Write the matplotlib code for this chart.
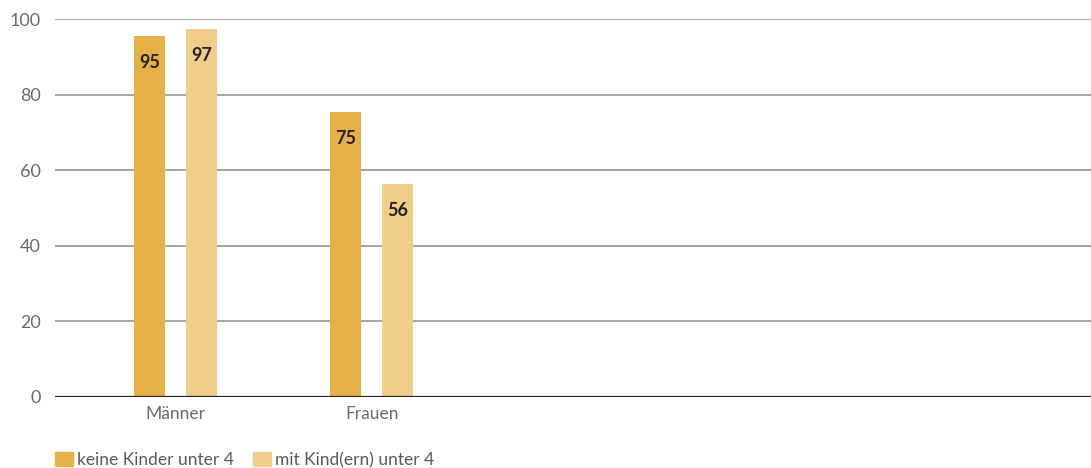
import matplotlib
matplotlib.use("Agg")
from matplotlib import pyplot as plt
from matplotlib.patches import Patch
import numpy as np

plt.rcParams['font.family'] = ['Lato', 'DejaVu Sans']

categories = ["Männer", "Frauen"]
series_names = ["keine Kinder unter 4", "mit Kind(ern) unter 4"]
keine_kinder = [95.6, 75.5]
mit_kindern = [97.5, 56.4]
yticks = [0, 20, 40, 60, 80, 100]

col_dark = "#E5B146"
col_light = "#F0CD8A"

fig = plt.figure(figsize=(10.91, 4.68), dpi=100)
ax = fig.add_axes([0.0504, 0.1524, 0.9496, 0.8064])

x = np.arange(len(categories))
w = 0.158
off = 0.1325
b1 = ax.bar(x - off, keine_kinder, w, color=col_dark, zorder=3)
b2 = ax.bar(x + off, mit_kindern, w, color=col_light, zorder=3)

for bars, vals in [(b1, keine_kinder), (b2, mit_kindern)]:
    for r, v in zip(bars, vals):
        ax.annotate(f"{int(v)}", (r.get_x() + r.get_width() / 2, v),
                    xytext=(0, -19.5), textcoords="offset points",
                    ha="center", va="center", fontsize=13,
                    fontweight="bold", color="#222222", zorder=4)

ax.set_xlim(-0.613, 4.66)
ax.set_ylim(0, 100)
for t in yticks[1:]:
    ax.axhline(t, color="#8a8a8a", lw=1.1, zorder=1)
ax.axhline(0, color="#222222", lw=1.6, zorder=4)

for s in ax.spines.values():
    s.set_visible(False)
ax.set_yticks(yticks)
ax.set_yticklabels([str(t) for t in yticks], fontsize=13, color="#6a6a6a")
ax.set_xticks(x)
ax.set_xticklabels(categories, fontsize=12.5, color="#6a6a6a")
ax.tick_params(axis="both", length=0)
ax.tick_params(axis="y", pad=10)
ax.tick_params(axis="x", pad=7)

handles = [Patch(color=col_dark), Patch(color=col_light)]
leg = fig.legend(handles, series_names, loc="lower left", bbox_to_anchor=(0.0504, 0.0),
                 ncol=2, frameon=False, fontsize=12.5, handlelength=1.03,
                 handleheight=0.92, handletextpad=0.23, columnspacing=1.1,
                 borderpad=0, borderaxespad=0)
for t in leg.get_texts():
    t.set_color("#5a5a5a")

fig.savefig("out.png", dpi=100)
